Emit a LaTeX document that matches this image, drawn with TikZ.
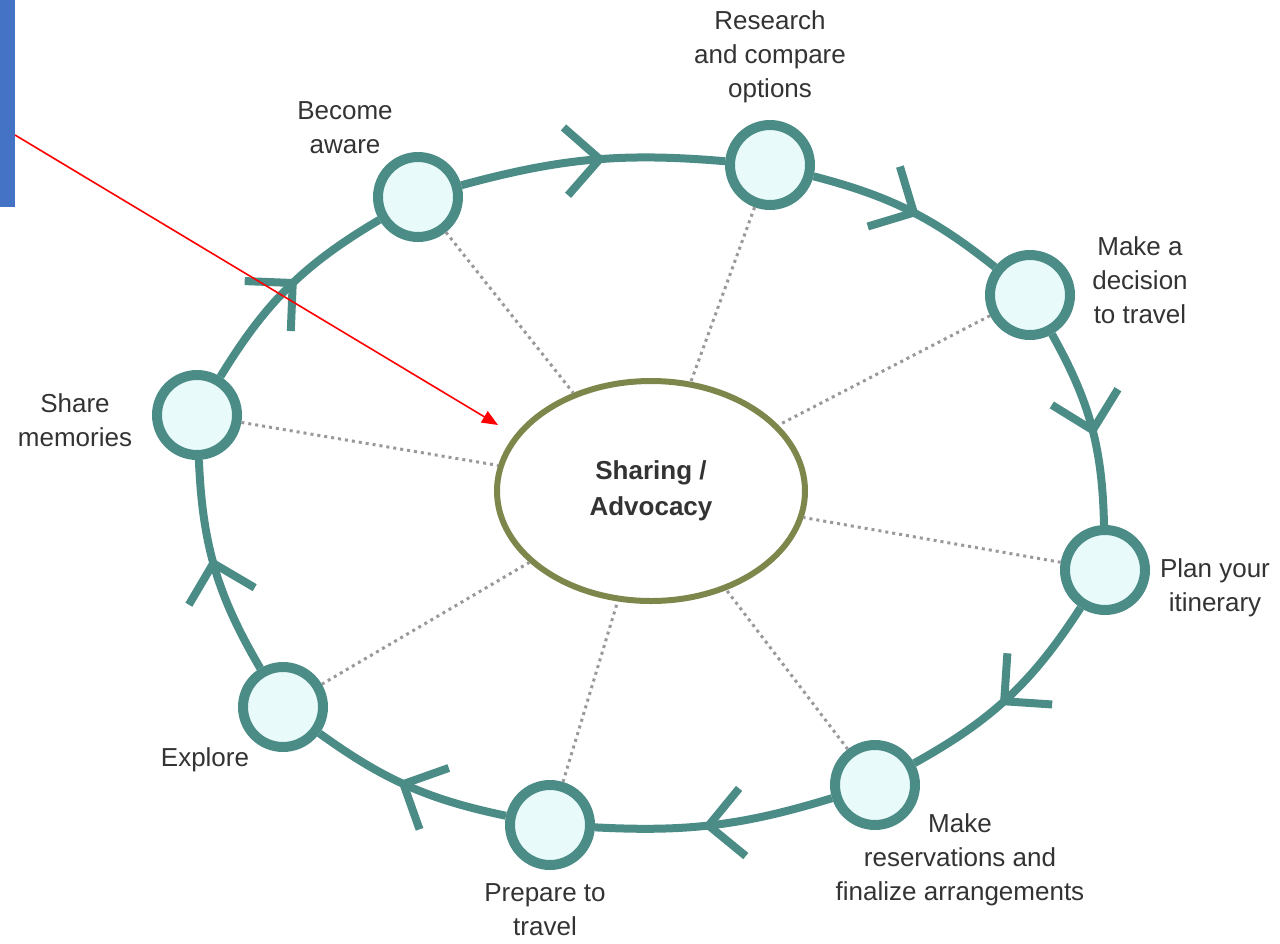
\documentclass[tikz,border=0pt]{standalone}
\usepackage{fontspec}
\setmainfont{Liberation Sans}
\usetikzlibrary{shapes.geometric,arrows.meta,decorations.markings}
\definecolor{teal1}{HTML}{4B8C87}
\definecolor{cfill}{HTML}{E8FAFA}
\definecolor{olive1}{HTML}{7D874B}
\definecolor{bar1}{HTML}{4472C4}
\definecolor{txt}{HTML}{333333}
\tikzset{
  stage/.style={circle,draw=teal1,line width=5pt,fill=cfill,inner sep=0pt,minimum size=40pt},
  hubnode/.style={ellipse,draw=olive1,line width=3pt,fill=white,minimum width=154pt,minimum height=110pt,font=\bfseries\fontsize{13}{18}\selectfont,text=txt,align=center},
  lbl/.style={align=center,font=\fontsize{13}{17}\selectfont,text=txt},
  cyc/.style={draw=teal1,line width=4pt,postaction={decorate,decoration={markings,mark=at position 0.55 with {\arrow{Straight Barb[length=17pt,width=34pt,line width=4pt]}}}}},
  spoke/.style={draw=gray!80,line width=1.5pt,dotted},
}
\begin{document}
\begin{tikzpicture}[x=0.5pt,y=-0.5pt]
\useasboundingbox (0,0) rectangle (1280,943);
\node[hubnode] (hub) at (651,491) {Sharing /\\Advocacy};
\node[stage] (aware) at (418,197) {};
\node[stage] (research) at (770,165) {};
\node[stage] (decision) at (1030,295) {};
\node[stage] (plan) at (1105,570) {};
\node[stage] (reserve) at (875,785) {};
\node[stage] (prepare) at (550,825) {};
\node[stage] (explore) at (283,707) {};
\node[stage] (share) at (197,415) {};
\foreach \n in {aware,research,decision,plan,reserve,prepare,explore,share}
  {\draw[spoke] (\n) -- (hub);}
\draw[cyc] (aware) to[bend left=10] (research);
\draw[cyc] (research) to[bend left=12] (decision);
\draw[cyc] (decision) to[bend left=14] (plan);
\draw[cyc] (plan) to[bend left=14] (reserve);
\draw[cyc] (reserve) to[bend left=10] (prepare);
\draw[cyc] (prepare) to[bend left=12] (explore);
\draw[cyc] (explore) to[bend left=14] (share);
\draw[cyc] (share) to[bend left=14] (aware);
\node[lbl] (laware) at (345,128) {Become\\aware};
\node[lbl] (lresearch) at (770,57) {Research\\and compare\\options};
\node[lbl] (ldecision) at (1140,280) {Make a\\decision\\to travel};
\node[lbl] (lplan) at (1215,588) {Plan your\\itinerary};
\node[lbl] (lreserve) at (960,860) {Make\\reservations and\\finalize arrangements};
\node[lbl] (lprepare) at (545,910) {Prepare to\\travel};
\node[lbl] (lexplore) at (205,760) {Explore};
\node[lbl] (lshare) at (75,420) {Share\\memories};
\node[fill=bar1,inner sep=0pt,minimum width=7.5pt,minimum height=103.5pt,anchor=north west] (bar) at (0,0) {};
\coordinate (rstart) at (15,135);
\coordinate (rend) at (498,425);
\draw[red,line width=0.8pt,-{Triangle[length=8pt,width=6.5pt]}] (rstart) -- (rend);
\end{tikzpicture}
\end{document}
